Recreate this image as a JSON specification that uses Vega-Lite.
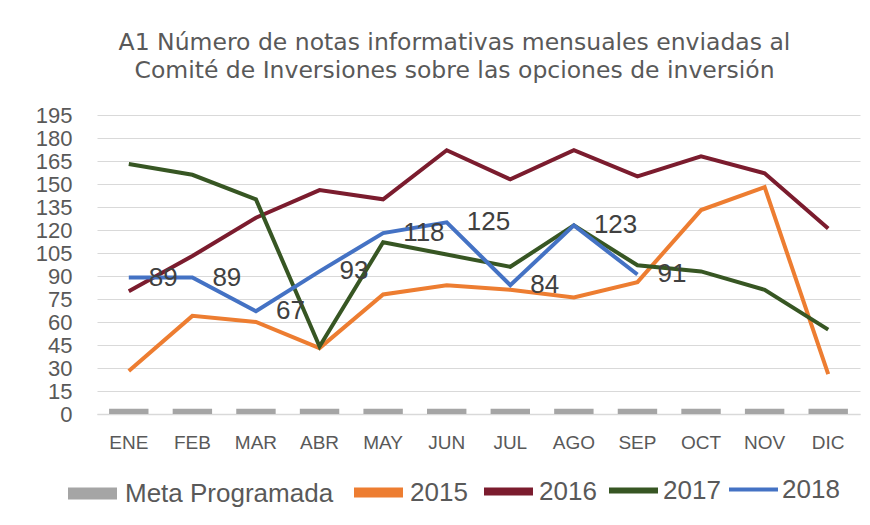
{
  "$schema": "https://vega.github.io/schema/vega-lite/v6.json",
  "autosize": {"type": "none"},
  "width": 763,
  "height": 299,
  "padding": {"left": 97, "top": 115, "right": 10, "bottom": 111},
  "background": "white",
  "title": {
    "text": ["A1 Número de notas informativas mensuales enviadas al", "Comité de Inversiones sobre las opciones de inversión"],
    "font": "DejaVu Sans",
    "fontSize": 23.5,
    "fontWeight": "normal",
    "color": "#595959",
    "lineHeight": 28,
    "anchor": "middle",
    "dx": -24,
    "offset": 22
  },
  "config": {
    "view": {"stroke": null},
    "font": "Liberation Sans",
    "legend": {"symbolType": "stroke"}
  },
  "data": {
    "values": [
      {"mes": "ENE", "serie": "Meta Programada", "valor": 3.5},
      {"mes": "FEB", "serie": "Meta Programada", "valor": 3.5},
      {"mes": "MAR", "serie": "Meta Programada", "valor": 3.5},
      {"mes": "ABR", "serie": "Meta Programada", "valor": 3.5},
      {"mes": "MAY", "serie": "Meta Programada", "valor": 3.5},
      {"mes": "JUN", "serie": "Meta Programada", "valor": 3.5},
      {"mes": "JUL", "serie": "Meta Programada", "valor": 3.5},
      {"mes": "AGO", "serie": "Meta Programada", "valor": 3.5},
      {"mes": "SEP", "serie": "Meta Programada", "valor": 3.5},
      {"mes": "OCT", "serie": "Meta Programada", "valor": 3.5},
      {"mes": "NOV", "serie": "Meta Programada", "valor": 3.5},
      {"mes": "DIC", "serie": "Meta Programada", "valor": 3.5},
      {"mes": "ENE", "serie": "2015", "valor": 28},
      {"mes": "FEB", "serie": "2015", "valor": 64},
      {"mes": "MAR", "serie": "2015", "valor": 60},
      {"mes": "ABR", "serie": "2015", "valor": 43},
      {"mes": "MAY", "serie": "2015", "valor": 78},
      {"mes": "JUN", "serie": "2015", "valor": 84},
      {"mes": "JUL", "serie": "2015", "valor": 81},
      {"mes": "AGO", "serie": "2015", "valor": 76},
      {"mes": "SEP", "serie": "2015", "valor": 86},
      {"mes": "OCT", "serie": "2015", "valor": 133},
      {"mes": "NOV", "serie": "2015", "valor": 148},
      {"mes": "DIC", "serie": "2015", "valor": 26},
      {"mes": "ENE", "serie": "2016", "valor": 80},
      {"mes": "FEB", "serie": "2016", "valor": 103},
      {"mes": "MAR", "serie": "2016", "valor": 128},
      {"mes": "ABR", "serie": "2016", "valor": 146},
      {"mes": "MAY", "serie": "2016", "valor": 140},
      {"mes": "JUN", "serie": "2016", "valor": 172},
      {"mes": "JUL", "serie": "2016", "valor": 153},
      {"mes": "AGO", "serie": "2016", "valor": 172},
      {"mes": "SEP", "serie": "2016", "valor": 155},
      {"mes": "OCT", "serie": "2016", "valor": 168},
      {"mes": "NOV", "serie": "2016", "valor": 157},
      {"mes": "DIC", "serie": "2016", "valor": 121},
      {"mes": "ENE", "serie": "2017", "valor": 163},
      {"mes": "FEB", "serie": "2017", "valor": 156},
      {"mes": "MAR", "serie": "2017", "valor": 140},
      {"mes": "ABR", "serie": "2017", "valor": 44},
      {"mes": "MAY", "serie": "2017", "valor": 112},
      {"mes": "JUN", "serie": "2017", "valor": 104},
      {"mes": "JUL", "serie": "2017", "valor": 96},
      {"mes": "AGO", "serie": "2017", "valor": 123},
      {"mes": "SEP", "serie": "2017", "valor": 97},
      {"mes": "OCT", "serie": "2017", "valor": 93},
      {"mes": "NOV", "serie": "2017", "valor": 81},
      {"mes": "DIC", "serie": "2017", "valor": 55},
      {"mes": "ENE", "serie": "2018", "valor": 89},
      {"mes": "FEB", "serie": "2018", "valor": 89},
      {"mes": "MAR", "serie": "2018", "valor": 67},
      {"mes": "ABR", "serie": "2018", "valor": 93},
      {"mes": "MAY", "serie": "2018", "valor": 118},
      {"mes": "JUN", "serie": "2018", "valor": 125},
      {"mes": "JUL", "serie": "2018", "valor": 84},
      {"mes": "AGO", "serie": "2018", "valor": 123},
      {"mes": "SEP", "serie": "2018", "valor": 91}
    ]
  },
  "encoding": {
    "x": {
      "field": "mes",
      "type": "nominal",
      "sort": ["ENE", "FEB", "MAR", "ABR", "MAY", "JUN", "JUL", "AGO", "SEP", "OCT", "NOV", "DIC"],
      "scale": {"paddingInner": 0.38, "paddingOuter": 0.19},
      "axis": {
        "title": null,
        "labelAngle": 0,
        "ticks": false,
        "domain": true,
        "domainColor": "#d9d9d9",
        "domainWidth": 1.5,
        "labelFont": "Liberation Sans",
        "labelFontSize": 19,
        "labelColor": "#595959",
        "labelPadding": 19
      }
    },
    "y": {
      "field": "valor",
      "type": "quantitative",
      "scale": {"domain": [0, 195], "nice": false},
      "axis": {
        "title": null,
        "values": [0, 15, 30, 45, 60, 75, 90, 105, 120, 135, 150, 165, 180, 195],
        "ticks": false,
        "domain": false,
        "labelOverlap": false,
        "gridColor": "#d9d9d9",
        "gridWidth": 1,
        "labelFont": "Liberation Sans",
        "labelFontSize": 22,
        "labelColor": "#595959",
        "labelPadding": 25
      }
    }
  },
  "layer": [
    {
      "transform": [{"filter": "datum.serie === 'Meta Programada'"}],
      "mark": {"type": "bar"},
      "encoding": {
        "color": {
          "field": "serie",
          "type": "nominal",
          "scale": {
            "domain": ["Meta Programada", "2015", "2016", "2017", "2018"],
            "range": ["#a5a5a5", "#ED7D31", "#7B1C2E", "#375623", "#4472C4"]
          },
          "legend": {
            "title": null,
            "orient": "none",
            "legendX": -35,
            "legendY": 348,
            "direction": "horizontal",
            "symbolType": "stroke",
            "symbolSize": 2400,
            "labelFont": "Liberation Sans",
            "labelFontSize": 26,
            "labelColor": "#595959",
            "labelLimit": 400,
            "labelOffset": 2,
            "columnPadding": 0,
            "gridAlign": "none"
          }
        }
      }
    },
    {
      "transform": [{"filter": "datum.serie !== 'Meta Programada'"}],
      "mark": {"type": "line", "strokeWidth": 4, "strokeJoin": "miter"},
      "encoding": {
        "color": {"field": "serie", "type": "nominal"},
        "strokeWidth": {
          "field": "serie",
          "type": "nominal",
          "scale": {
            "domain": ["Meta Programada", "2015", "2016", "2017", "2018"],
            "range": [12, 4, 4, 4, 4]
          }
        }
      }
    },
    {
      "transform": [{"filter": "datum.serie === '2018'"}],
      "mark": {"type": "text", "align": "left", "baseline": "middle", "dx": 20, "fontSize": 26, "font": "Liberation Sans", "color": "#404040"},
      "encoding": {
        "text": {"field": "valor", "type": "quantitative"}
      }
    }
  ]
}
